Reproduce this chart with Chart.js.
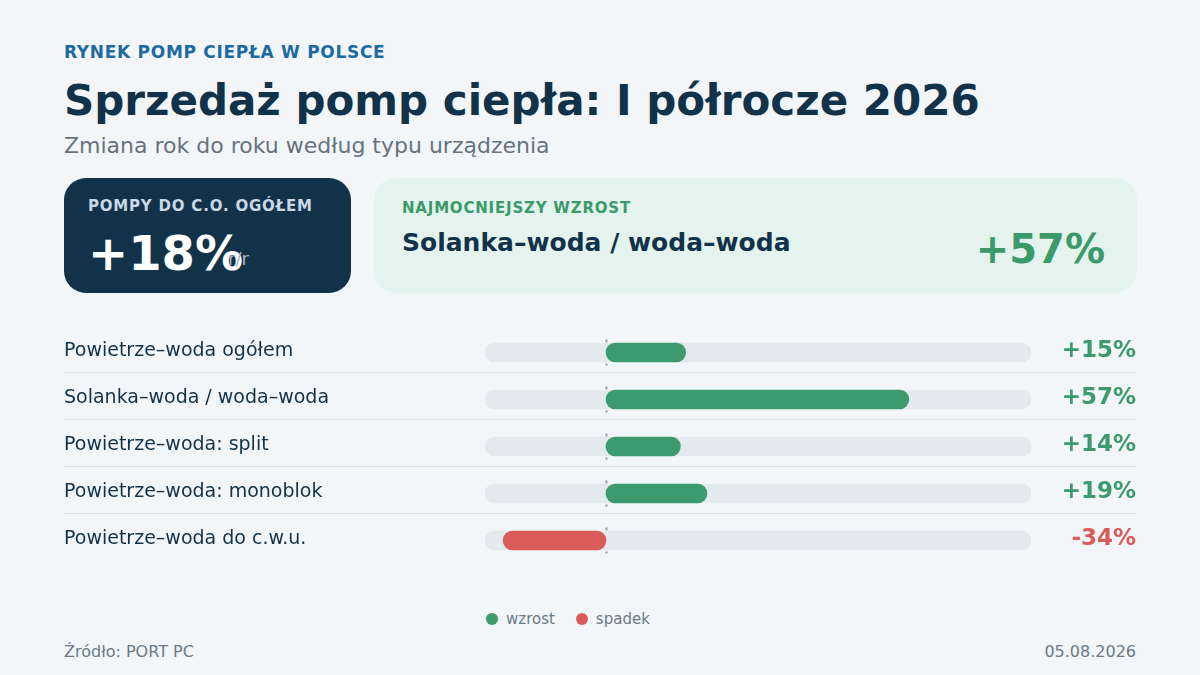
<!DOCTYPE html>
<html lang="pl">
<head>
<meta charset="utf-8">
<script src="https://cdn.jsdelivr.net/npm/chart.js@4/dist/chart.umd.min.js"></script>
<style>
    body { margin: 0; background: #f2f6f9; font-family: "DejaVu Sans", sans-serif; }
    #page { position: relative; width: 1200px; height: 675px; overflow: hidden; }
    .abs { position: absolute; white-space: nowrap; }
    #kicker { left: 64px; top: 42px; font-size: 17px; font-weight: bold; color: #1d6aa0; letter-spacing: 0.7px; }
    #title { left: 64px; top: 76px; font-size: 42px; font-weight: bold; color: #12324a; }
    #subtitle { left: 64px; top: 133px; font-size: 22px; color: #66737f; }
    #card1 { left: 64px; top: 178px; width: 287px; height: 115px; background: #12324a; border-radius: 22px; }
    #card2 { left: 374px; top: 178px; width: 763px; height: 115px; background: #e5f3ee; border-radius: 22px; }
    .cardLabel { font-size: 15px; font-weight: bold; letter-spacing: 0.8px; }
    #footer-src { left: 64px; top: 642px; font-size: 16px; color: #6b7a86; }
    #footer-date { right: 64px; top: 642px; font-size: 16px; color: #6b7a86; }
    #chartBox { left: 64px; top: 329px; width: 1072px; height: 235px; }
    #legend { left: 486px; top: 610px; font-size: 15px; color: #6b7a86; display: flex; gap: 21px; }
    #legend span { display: inline-flex; align-items: center; gap: 8px; }
    #legend i { display: inline-block; width: 12px; height: 12px; border-radius: 50%; }
</style>
</head>
<body>
<div id="page">
    <div class="abs" id="kicker">RYNEK POMP CIEPŁA W POLSCE</div>
    <div class="abs" id="title">Sprzedaż pomp ciepła: I półrocze 2026</div>
    <div class="abs" id="subtitle">Zmiana rok do roku według typu urządzenia</div>

    <div class="abs" id="card1"></div>
    <div class="abs cardLabel" style="left:88px; top:197px; color:#c9d9e6;">POMPY DO C.O. OGÓŁEM</div>
    <div class="abs" style="left:88px; top:225px; font-size:48px; font-weight:bold; color:#ffffff;">+18%</div>
    <div class="abs" style="left:228px; top:248px; font-size:18px; color:#a3b6c6;">r/r</div>

    <div class="abs" id="card2"></div>
    <div class="abs cardLabel" style="left:402px; top:199px; color:#3a9a6a;">NAJMOCNIEJSZY WZROST</div>
    <div class="abs" style="left:402px; top:228px; font-size:25px; font-weight:bold; color:#12324a;">Solanka–woda / woda–woda</div>
    <div class="abs" style="right:95px; top:226px; font-size:40px; font-weight:bold; color:#3a9a6a;">+57%</div>

    <div class="abs" id="chartBox"><canvas id="barChart"></canvas></div>

    <div class="abs" id="legend">
        <span><i style="background:#3c9a6e"></i>wzrost</span>
        <span><i style="background:#d95c5a"></i>spadek</span>
    </div>

    <div class="abs" id="footer-src">Źródło: PORT PC</div>
    <div class="abs" id="footer-date">05.08.2026</div>
</div>

<script>
const categories = [
    "Powietrze–woda ogółem",
    "Solanka–woda / woda–woda",
    "Powietrze–woda: split",
    "Powietrze–woda: monoblok",
    "Powietrze–woda do c.w.u."
];
const changes = [15, 57, 14, 19, -34];
const trackRange = [-40, 80];

const GREEN = "#3c9a6e";
const RED = "#d95c5a";

// linear scale with a different step left and right of zero
class SplitScale extends Chart.LinearScale {
    zeroPixel() {
        return this.left + this.width * this.options.zeroAt;
    }
    getPixelForValue(value) {
        const zero = this.zeroPixel();
        if (value < 0) return zero - (value / this.min) * (zero - this.left);
        return zero + (value / this.max) * (this.right - zero);
    }
    getValueForPixel(pixel) {
        const zero = this.zeroPixel();
        if (pixel < zero) return this.min * (zero - pixel) / (zero - this.left);
        return this.max * (pixel - zero) / (this.right - zero);
    }
}
SplitScale.id = "split";
SplitScale.defaults = Chart.LinearScale.defaults;
Chart.register(SplitScale);

const rowDecor = {
    id: "rowDecor",
    beforeDatasetsDraw(chart) {
        const { ctx, scales: { x, y } } = chart;
        ctx.save();
        // separators under each row except the last
        ctx.strokeStyle = "#dce3e8";
        ctx.lineWidth = 1;
        for (let i = 0; i < categories.length - 1; i++) {
            const yy = Math.round(y.getPixelForValue(i) + 19) + 0.5;
            ctx.beginPath();
            ctx.moveTo(0, yy);
            ctx.lineTo(chart.width, yy);
            ctx.stroke();
        }
        // short dashed zero marker in every row
        const zx = Math.round(x.getPixelForValue(0)) + 0.5;
        ctx.strokeStyle = "#8c9daa";
        ctx.lineWidth = 2;
        ctx.setLineDash([3, 3]);
        categories.forEach((c, i) => {
            const cy = y.getPixelForValue(i);
            ctx.beginPath();
            ctx.moveTo(zx, cy - 13);
            ctx.lineTo(zx, cy + 13);
            ctx.stroke();
        });
        ctx.restore();
    },
    afterDatasetsDraw(chart) {
        const { ctx, scales: { y } } = chart;
        ctx.save();
        ctx.font = "bold 23px 'DejaVu Sans'";
        ctx.textAlign = "right";
        ctx.textBaseline = "middle";
        changes.forEach((v, i) => {
            ctx.fillStyle = v < 0 ? RED : GREEN;
            ctx.fillText((v > 0 ? "+" : "") + v + "%", chart.width, y.getPixelForValue(i) - 1);
        });
        ctx.restore();
    }
};

new Chart(document.getElementById("barChart"), {
    type: "bar",
    data: {
        labels: categories,
        datasets: [
            {
                label: "zmiana r/r",
                data: changes,
                backgroundColor: changes.map((v) => (v < 0 ? RED : GREEN)),
                borderRadius: 10,
                borderSkipped: false,
                barThickness: 19,
                grouped: false,
            },
            {
                label: "tło",
                data: categories.map(() => trackRange),
                backgroundColor: "#e3eaed",
                borderRadius: 10,
                borderSkipped: false,
                barThickness: 19,
                grouped: false,
            },
        ],
    },
    options: {
        indexAxis: "y",
        responsive: true,
        maintainAspectRatio: false,
        animation: false,
        layout: { padding: { left: 0, right: 105, top: 0, bottom: 0 } },
        plugins: {
            legend: { display: false },
            tooltip: { enabled: false },
        },
        scales: {
            x: {
                type: "split",
                min: trackRange[0],
                max: trackRange[1],
                zeroAt: 121 / 546,
                display: false,
            },
            y: {
                grid: { display: false },
                border: { display: false },
                afterFit: (scale) => {
                    scale.width = 421;
                    scale.paddingTop = 0;
                    scale.paddingBottom = 0;
                },
                ticks: {
                    crossAlign: "far",
                    padding: 0,
                    labelOffset: -1,
                    color: "#12324a",
                    font: { family: "DejaVu Sans", size: 19 },
                },
            },
        },
    },
    plugins: [rowDecor],
});
</script>
</body>
</html>
